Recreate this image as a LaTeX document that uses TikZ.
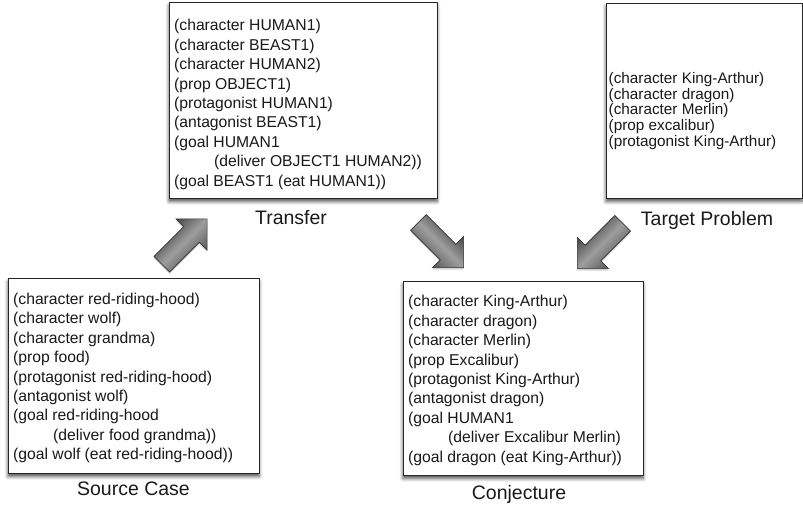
\documentclass[tikz,border=0pt]{standalone}
\usepackage{fontspec}
\setmainfont{Liberation Sans}
\usetikzlibrary{shadows,shadows.blur}

\tikzset{
  panel/.style={draw=black!85, line width=0.8pt, fill=white, inner sep=0pt,
    blur shadow={shadow xshift=0pt, shadow yshift=-3.5pt,
      shadow blur radius=3.5pt, shadow blur steps=6, shadow opacity=70}},
  listing/.style={anchor=west, align=left, inner sep=0pt, text=black!90,
    font=\fontsize{15.7pt}{19.4pt}\selectfont},
  caption/.style={anchor=base, inner sep=0pt, text=black!90,
    font=\fontsize{19.5pt}{22pt}\selectfont},
  flow/.style={draw=black!80, line width=0.7pt, line join=miter,
    top color=black!80, bottom color=black!72, middle color=black!38,
    drop shadow={opacity=0.35, shadow xshift=0pt, shadow yshift=-2pt}}
}

% block arrow of length 64, shaft 22, head 44 wide, centred on the origin
\newcommand{\blockarrowpath}{(-32,-11) -- (10,-11) -- (10,-22) -- (32,0) -- (10,22) -- (10,11) -- (-32,11) -- cycle}

\begin{document}
\begin{tikzpicture}[x=1pt, y=-1pt]
  \useasboundingbox (0,0) rectangle (803,507);

  % the four frames
  \node[panel, minimum width=251pt, minimum height=195pt] (source) at (133.5,375.5) {};
  \node[panel, minimum width=268pt, minimum height=196pt] (transfer) at (303,100) {};
  \node[panel, minimum width=196pt, minimum height=195pt] (target) at (704,100.5) {};
  \node[panel, minimum width=240pt, minimum height=194pt] (conj) at (523,378) {};

  % frame contents
  \node[listing] (sourcetext) at (13,378) {%
    (character red-riding-hood)\\
    (character wolf)\\
    (character grandma)\\
    (prop food)\\
    (protagonist red-riding-hood)\\
    (antagonist wolf)\\
    (goal red-riding-hood\\
    \hspace*{40pt}(deliver food grandma))\\
    (goal wolf (eat red-riding-hood))};

  \node[listing] (transfertext) at (174,104.5) {%
    (character HUMAN1)\\
    (character BEAST1)\\
    (character HUMAN2)\\
    (prop OBJECT1)\\
    (protagonist HUMAN1)\\
    (antagonist BEAST1)\\
    (goal HUMAN1\\
    \hspace*{40pt}(deliver OBJECT1 HUMAN2))\\
    (goal BEAST1 (eat HUMAN1))};

  \node[listing, font=\fontsize{15.3pt}{15.9pt}\selectfont] (targettext) at (608.5,111) {%
    (character King-Arthur)\\
    (character dragon)\\
    (character Merlin)\\
    (prop excalibur)\\
    (protagonist King-Arthur)};

  \node[listing] (conjtext) at (408,380.5) {%
    (character King-Arthur)\\
    (character dragon)\\
    (character Merlin)\\
    (prop Excalibur)\\
    (protagonist King-Arthur)\\
    (antagonist dragon)\\
    (goal HUMAN1\\
    \hspace*{40pt}(deliver Excalibur Merlin)\\
    (goal dragon (eat King-Arthur))};

  % captions
  \node[caption] (sourcecap) at (133.5,495) {Source Case};
  \node[caption] (transfercap) at (291,224) {Transfer};
  \node[caption] (targetcap) at (707,225) {Target Problem};
  \node[caption] (conjcap) at (519,499) {Conjecture};

  % block arrows between the frames
  \path[flow, shift={(184.5,241.5)}, rotate=45, shading angle=45] \blockarrowpath;
  \path[flow, shift={(441,245)}, rotate=-45, shading angle=-45] \blockarrowpath;
  \path[flow, shift={(600,246)}, rotate=-135, shading angle=45] \blockarrowpath;
\end{tikzpicture}
\end{document}
